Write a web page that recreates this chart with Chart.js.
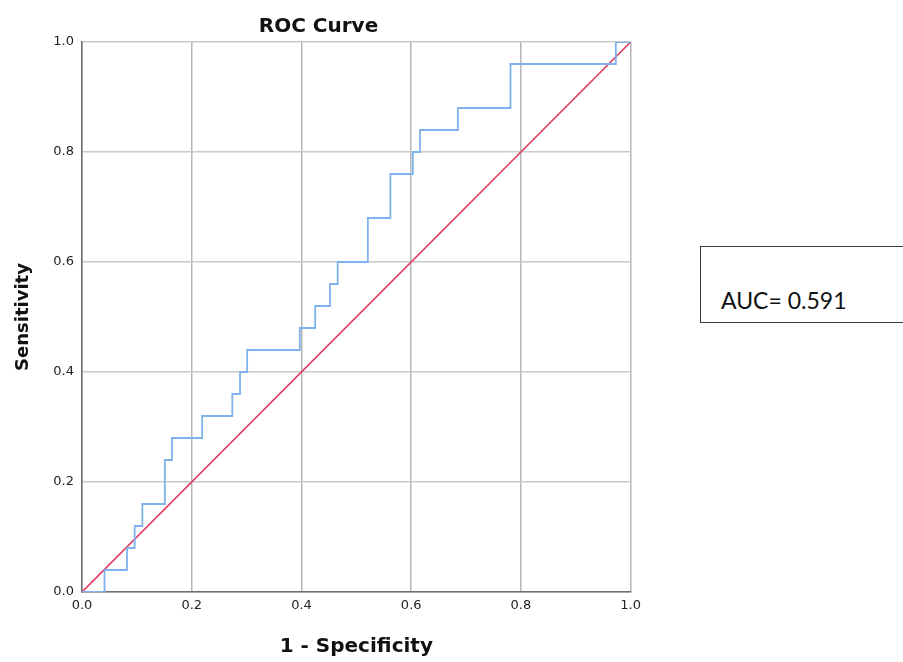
<!DOCTYPE html>
<html lang="en">
<head>
  <meta charset="UTF-8">
  <title>ROC Curve</title>
  <script src="https://cdn.jsdelivr.net/npm/chart.js"></script>
  <style>
    html, body { margin: 0; padding: 0; background: #fff; overflow: hidden; }
    .wrap { position: absolute; left: 0; top: 0; width: 647px; height: 662px; }
    .auc-box {
      position: absolute; left: 700px; top: 246px; width: 240px; height: 77px;
      border: 1px solid #3a3a3a; box-sizing: border-box;
    }
    .auc-box span {
      position: absolute; left: 20px; top: 42px;
      font: 23px Lato, "Open Sans", sans-serif; color: #111; line-height: 23px;
    }
  </style>
</head>
<body>
  <div class="wrap">
    <canvas id="rocChart" width="647" height="662"></canvas>
  </div>
  <div class="auc-box"><span>AUC= 0.591</span></div>

  <script>
    // ROC points (1 - specificity, sensitivity)
    const fpr = [0, 0.041, 0.082, 0.096, 0.110, 0.151, 0.164, 0.219, 0.274, 0.288, 0.301,
                 0.397, 0.425, 0.452, 0.466, 0.521, 0.562, 0.603, 0.616, 0.685, 0.781, 0.973, 1];
    const tpr = [0, 0.04, 0.08, 0.12, 0.16, 0.24, 0.28, 0.32, 0.36, 0.40, 0.44,
                 0.48, 0.52, 0.56, 0.60, 0.68, 0.76, 0.80, 0.84, 0.88, 0.96, 1.0, 1.0];
    // reference diagonal
    const refX = [0, 1];
    const refY = [0, 1];
    const tickValues = [0, 0.2, 0.4, 0.6, 0.8, 1.0];

    const rocPoints = fpr.map((x, i) => ({ x: x, y: tpr[i] }));
    const refPoints = refX.map((x, i) => ({ x: x, y: refY[i] }));

    const tickFont = { family: 'DejaVu Sans', size: 13 };

    new Chart(document.getElementById('rocChart'), {
      type: 'scatter',
      data: {
        datasets: [
          {
            label: 'ROC',
            data: rocPoints,
            showLine: true,
            stepped: 'before',
            borderColor: '#7fb1ec',
            borderWidth: 1.8,
            pointRadius: 0,
            fill: false
          },
          {
            label: 'Reference',
            data: refPoints,
            showLine: true,
            borderColor: '#e03d62',
            borderWidth: 1.6,
            pointRadius: 0,
            fill: false
          }
        ]
      },
      options: {
        responsive: false,
        animation: false,
        layout: { padding: { left: 0, right: 10, top: 0, bottom: 0 } },
        plugins: {
          legend: { display: false },
          tooltip: { enabled: false },
          title: {
            display: true,
            text: 'ROC Curve',
            color: '#111',
            font: { family: 'DejaVu Sans', size: 20, weight: 'bold' },
            padding: { top: 15, bottom: 3 }
          }
        },
        scales: {
          x: {
            type: 'linear',
            min: 0,
            max: 1,
            afterBuildTicks: (axis) => { axis.ticks = tickValues.map(v => ({ value: v })); },
            afterFit: (axis) => { axis.height = 70; },
            ticks: {
              font: tickFont,
              color: '#222',
              padding: 6,
              maxRotation: 0,
              callback: (v) => Number(v).toFixed(1)
            },
            grid: { color: '#b6b6b6', lineWidth: 1.5, drawTicks: false },
            border: { color: '#6e6e6e', width: 1.5 },
            title: {
              display: true,
              text: '1 - Specificity',
              color: '#111',
              font: { family: 'DejaVu Sans', size: 20, weight: 'bold' },
              padding: { top: 0, bottom: 3 }
            }
          },
          y: {
            type: 'linear',
            min: 0,
            max: 1,
            afterBuildTicks: (axis) => { axis.ticks = tickValues.map(v => ({ value: v })); },
            afterFit: (axis) => { axis.width = 82; },
            ticks: {
              font: tickFont,
              color: '#222',
              padding: 8,
              callback: (v) => Number(v).toFixed(1)
            },
            grid: { color: '#cacaca', lineWidth: 1.5, drawTicks: false },
            border: { color: '#6e6e6e', width: 1.5 },
            title: {
              display: true,
              text: 'Sensitivity',
              color: '#111',
              font: { family: 'DejaVu Sans', size: 18, weight: 'bold' },
              padding: { top: 13, bottom: 0 }
            }
          }
        }
      }
    });
  </script>
</body>
</html>
